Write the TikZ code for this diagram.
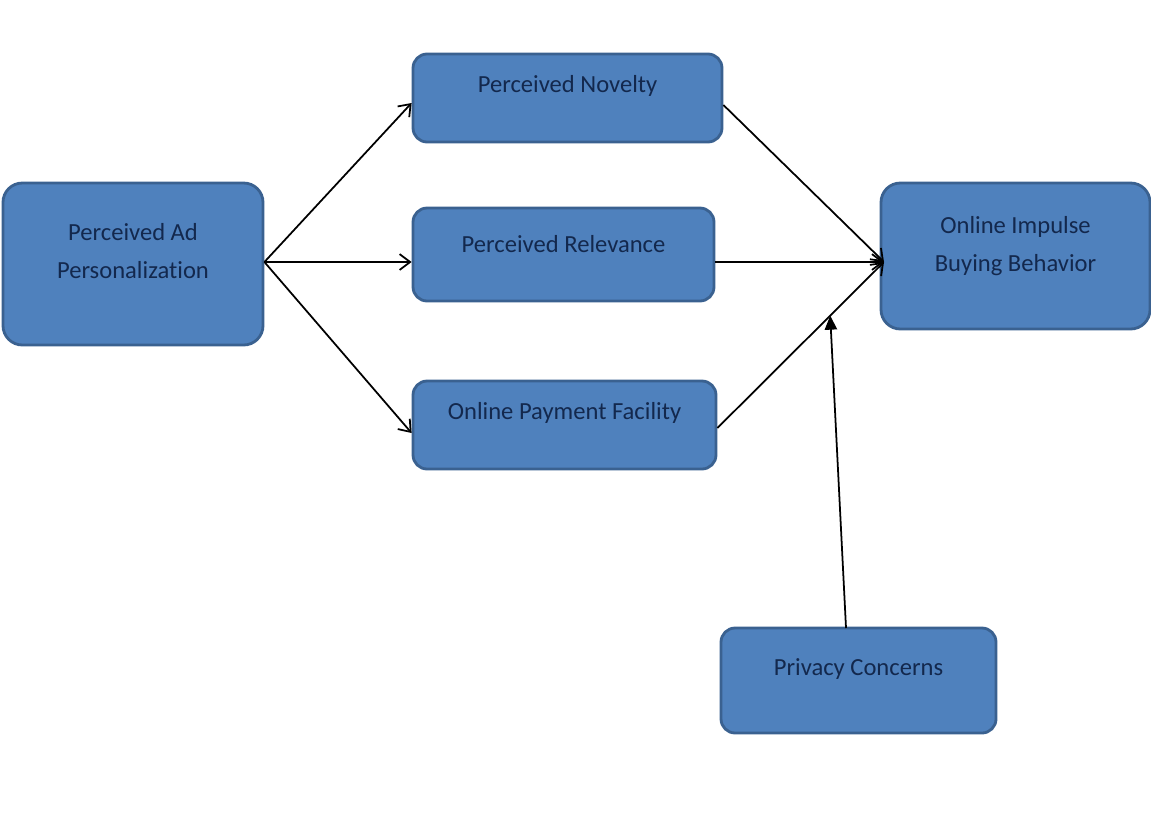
\documentclass[tikz,border=0pt]{standalone}
\usepackage{fontspec}
\setmainfont{Carlito}[Ligatures={NoCommon}]
\usetikzlibrary{arrows.meta,calc}
\definecolor{boxfill}{HTML}{4F81BD}
\definecolor{boxline}{HTML}{3A6190}
\definecolor{boxtext}{HTML}{13284D}
\tikzset{
  box/.style={draw=boxline, line width=1.6pt, fill=boxfill, rounded corners=8pt, inner sep=0pt},
  lbl/.style={text=boxtext, font=\fontsize{14}{21.6}\selectfont, align=center, inner sep=0pt},
  link/.style={draw=black, line width=1pt, -{Straight Barb[length=6pt,width=9pt]}},
  mod/.style={draw=black, line width=1pt, -{Triangle[length=8pt,width=7pt]}}
}
\begin{document}
\begin{tikzpicture}[x=0.02cm,y=-0.02cm]
\useasboundingbox (0,0) rectangle (1151,829);
% boxes
\node[box, minimum width=260*0.02cm, minimum height=162*0.02cm, rounded corners=11pt] (ad) at (133,264) {};
\node[box, minimum width=309*0.02cm, minimum height=88*0.02cm] (nov) at (567.5,98) {};
\node[box, minimum width=301*0.02cm, minimum height=93*0.02cm] (rel) at (563.5,254.5) {};
\node[box, minimum width=303*0.02cm, minimum height=88*0.02cm] (pay) at (564.5,425) {};
\node[box, minimum width=269*0.02cm, minimum height=146*0.02cm, rounded corners=11pt] (oib) at (1015.5,256) {};
\node[box, minimum width=275*0.02cm, minimum height=105*0.02cm] (pc) at (858.5,680.5) {};
% labels
\node[lbl] (adt) at ($(ad.center)+(0,-13)$) {Perceived Ad\\Personalization};
\node[lbl] (novt) at ($(nov.center)+(0,-12)$) {Perceived Novelty};
\node[lbl] (relt) at ($(rel.center)+(0,-10)$) {Perceived Relevance};
\node[lbl] (payt) at ($(pay.center)+(0,-12)$) {Online Payment Facility};
\node[lbl] (oibt) at ($(oib.center)+(0,-10)$) {Online Impulse\\Buying Behavior};
\node[lbl] (pct) at ($(pc.center)+(0,-11)$) {Privacy Concerns};
% anchor points
\coordinate (adR) at (ad.east |- 0,262);
\coordinate (oibL) at (884,262);
% links
\draw[link] (adR) -- (nov.west |- 0,103);
\draw[link] (adR) -- (rel.west |- 0,262);
\draw[link] (adR) -- (pay.west |- 0,433);
\draw[link] (nov.east |- 0,105) -- (oibL);
\draw[link] (rel.east |- 0,262) -- (oibL);
\draw[link] (pay.east |- 0,428) -- coordinate[pos=0.677] (mid) (oibL);
\draw[mod] (846,628) -- (mid);
\end{tikzpicture}
\end{document}
